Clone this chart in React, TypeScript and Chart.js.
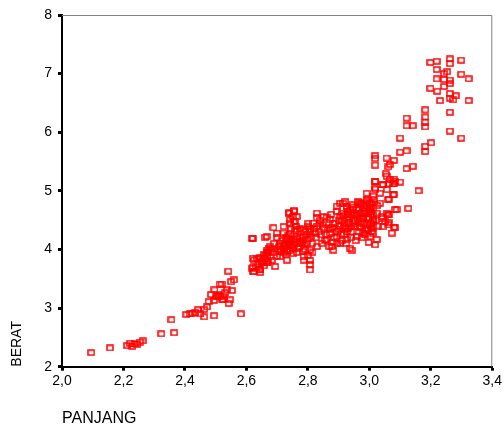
import { useEffect, useRef } from "react";
import { Chart, registerables } from "chart.js";

Chart.register(...registerables);

// PANJANG (x) and BERAT (y) values, grouped by region of the cloud
const lowPanjang = [2.095, 2.156, 2.212, 2.221, 2.229, 2.236, 2.245, 2.253, 2.262, 2.323, 2.365, 2.356,
  2.405, 2.416, 2.424, 2.433, 2.442, 2.45, 2.463, 2.463, 2.472, 2.495, 2.582,
  2.477, 2.485, 2.496, 2.501, 2.509, 2.513,
  2.494, 2.507, 2.513, 2.521, 2.526, 2.531, 2.537, 2.542, 2.547, 2.553, 2.56, 2.55, 2.519, 2.541, 2.524];
const lowBerat = [2.24, 2.32, 2.36, 2.4, 2.35, 2.39, 2.38, 2.42, 2.44, 2.56, 2.58, 2.8,
  2.89, 2.9, 2.91, 2.92, 2.97, 2.9, 2.98, 2.85, 3.02, 2.87, 2.9,
  3.11, 3.23, 3.31, 3.19, 3.23, 3.41,
  3.13, 3.19, 3.21, 3.14, 3.2, 3.26, 3.31, 3.08, 3.14, 3.3, 3.48, 3.45, 3.41, 3.63, 3.15];

const midPanjang = [2.621, 2.662, 2.621, 2.634, 2.645, 2.65, 2.656, 2.661, 2.667, 2.672, 2.667, 2.621, 2.623, 2.643, 2.645, 2.656, 2.669,
  2.915, 2.926, 2.894, 2.905, 2.937, 2.948, 2.97, 2.991, 3.002, 3.013, 3.035, 3.024, 3.04, 3.013, 2.991, 2.97, 2.948, 2.926,
  2.959, 2.981, 3.013, 3.024, 3.019, 2.883, 2.872, 2.862, 2.878, 2.883, 2.926, 2.937, 2.943, 2.905, 2.851, 2.851, 2.829,
  2.818, 2.802, 2.786, 2.764, 2.775, 2.797, 2.807, 2.807, 2.807, 2.807, 2.786, 2.786, 2.753, 2.743, 2.732, 2.721, 2.71,
  2.699, 2.688, 2.721, 2.743, 2.755, 2.737, 2.764, 2.743, 2.759, 2.829, 2.802, 2.667, 2.678, 2.688, 2.683, 2.656, 2.645,
  2.624, 2.618, 2.624, 2.645, 2.656, 2.667, 2.694, 2.71, 2.732, 2.721, 2.667, 2.618, 2.74, 2.755, 2.75, 2.754];
const midBerat = [4.19, 4.21, 3.85, 3.84, 3.87, 3.78, 3.84, 3.89, 3.94, 4.01, 3.77, 3.7, 3.62, 3.66, 3.61, 3.72, 3.8,
  4.79, 4.735, 4.65, 4.56, 4.68, 4.62, 4.76, 4.85, 4.79, 4.71, 4.79, 4.62, 4.56, 4.51, 4.45, 4.39, 4.45, 4.51,
  4.22, 4.28, 4.28, 4.17, 4.08, 4.45, 4.34, 4.17, 4.05, 3.99, 4.17, 4.02, 3.99, 4.11, 4.56, 4.37, 4.62,
  4.45, 4.39, 4.34, 4.22, 4.14, 4.11, 3.99, 3.82, 3.74, 3.65, 3.88, 3.82, 4.17, 4.05, 3.99, 3.94, 4.11,
  4.28, 4.37, 4.39, 4.51, 4.65, 4.62, 4.56, 4.45, 4.48, 4.54, 4.45, 3.99, 4.05, 3.94, 3.82, 3.91, 3.85,
  3.82, 3.68, 3.62, 3.65, 3.77, 3.77, 3.71, 3.88, 3.82, 4.11, 4.22, 4.19, 4.63, 4.67, 4.56, 4.47];

const densePanjang = [2.894, 2.905, 2.921, 2.991, 3.013, 3.035, 3.002, 2.981, 3.056, 3.051, 3.046, 3.013, 2.997, 2.964,
  2.959, 2.943, 2.932, 2.916, 2.9, 2.894, 2.872, 2.84, 2.824, 2.807, 2.786, 2.764, 2.743, 2.732, 2.721, 2.71, 2.699,
  2.678, 2.667,
  2.702, 2.706, 2.714, 2.721, 2.726, 2.729, 2.736, 2.741, 2.744, 2.751, 2.756, 2.759, 2.766, 2.771, 2.774, 2.781,
  2.784, 2.791, 2.796, 2.799, 2.806, 2.811, 2.814, 2.821, 2.826, 2.829, 2.836, 2.841, 2.844, 2.849, 2.856, 2.861,
  2.864, 2.871, 2.876, 2.879, 2.886, 2.889, 2.896, 2.901, 2.904, 2.911, 2.916, 2.919, 2.926, 2.931, 2.934, 2.941,
  2.946, 2.951, 2.954, 2.961, 2.966, 2.969, 2.976, 2.981, 2.984, 2.991, 2.996, 2.999, 3.006, 3.011, 3.014, 3.021,
  3.026, 3.029,
  3.005, 2.995, 2.985, 2.975, 2.965, 2.955, 2.94, 2.925, 2.91, 2.895, 2.88, 2.87, 2.86, 2.845, 2.83, 2.815, 2.8,
  2.79, 2.775, 2.76, 2.745, 2.73, 2.715, 2.7, 2.69, 2.68, 2.67, 2.66, 2.65, 2.64, 2.63];
const denseBerat = [4.74, 4.79, 4.82, 4.96, 4.91, 4.96, 4.68, 4.56, 4.62, 4.48, 4.39, 4.39, 4.34, 4.51,
  4.68, 4.76, 4.59, 4.39, 4.34, 4.22, 4.51, 4.45, 4.28, 4.34, 4.22, 4.34, 4.28, 4.17, 4.28, 3.99, 3.88,
  3.88, 3.88,
  4.0, 4.05, 3.97, 4.02, 4.08, 3.92, 4.1, 3.98, 4.15, 4.02, 4.08, 4.12, 3.95, 4.05, 4.2, 4.1,
  4.15, 4.0, 4.25, 4.18, 4.3, 4.22, 4.1, 4.35, 4.2, 4.4, 4.3, 4.5, 4.25, 4.42, 4.15, 4.55,
  4.35, 4.28, 4.6, 4.38, 4.2, 4.45, 4.3, 4.5, 4.4, 4.62, 4.25, 4.45, 4.7, 4.35, 4.55, 4.3,
  4.72, 4.5, 4.4, 4.6, 4.8, 4.55, 4.45, 4.7, 4.62, 4.75, 4.55, 4.8, 4.65, 4.6, 4.85, 4.5,
  4.75, 4.4,
  4.45, 4.35, 4.25, 4.2, 4.3, 4.15, 4.2, 4.1, 4.15, 4.1, 4.12, 4.05, 4.25, 4.1, 4.05, 3.95, 3.9,
  4.3, 4.35, 4.4, 4.35, 4.2, 4.15, 4.2, 4.1, 4.0, 3.95, 3.85, 3.8, 3.75, 3.7];

// extra points filling the most crowded part of the cloud
const corePanjang = [2.998, 3.003, 3.008, 3.002, 2.997, 3.006, 3.001, 3.009, 2.994, 3.004, 3.012, 2.999,
  2.962, 2.967, 2.972, 2.978, 2.983, 2.988, 2.957, 2.952, 2.974, 2.986, 2.969, 2.981,
  2.912, 2.918, 2.923, 2.929, 2.934, 2.939, 2.944, 2.909, 2.927,
  2.728, 2.733, 2.738, 2.747, 2.752, 2.762, 2.768, 2.777, 2.783, 2.789, 2.735, 2.757];
const coreBerat = [4.12, 4.22, 4.31, 4.42, 4.52, 4.61, 4.7, 4.78, 4.83, 4.36, 4.47, 4.64,
  4.82, 4.7, 4.62, 4.52, 4.42, 4.33, 4.58, 4.48, 4.78, 4.66, 4.38, 4.73,
  4.49, 4.58, 4.36, 4.64, 4.46, 4.4, 4.6, 4.27, 4.3,
  4.06, 3.96, 4.13, 4.07, 3.93, 4.18, 4.02, 4.11, 3.97, 4.08, 4.23, 4.32];

const highPanjang = [3.019, 3.044, 3.078, 3.019, 3.057, 3.084, 3.078, 3.062, 3.089, 3.062, 3.062, 3.084, 3.073,
  3.199, 3.219, 3.262, 3.262, 3.299, 3.219, 3.243, 3.253, 3.299, 3.323, 3.219, 3.243, 3.262, 3.262, 3.243, 3.199,
  3.221, 3.262, 3.281, 3.262, 3.273, 3.23, 3.323, 3.182, 3.182, 3.182, 3.182, 3.121, 3.121, 3.141, 3.262, 3.262,
  3.299, 3.1, 3.182, 3.182, 3.201, 3.1, 3.121, 3.019, 3.019, 3.019, 3.056, 3.08, 3.067, 3.062, 3.054, 3.056, 3.067,
  3.08, 3.1, 3.019, 3.019, 3.043, 3.063, 3.08, 3.121, 3.141, 3.16, 3.08, 3.063, 3.084, 3.127, 3.063, 3.043, 3.063, 3.08];
const highBerat = [5.16, 5.1, 5.12, 5.03, 5.02, 5.16, 4.93, 4.85, 4.68, 4.59, 4.42, 4.37, 4.28,
  7.19, 7.21, 7.25, 7.17, 7.23, 7.07, 7.0, 7.03, 6.99, 6.91, 6.91, 6.9, 6.89, 6.83, 6.78, 6.75,
  6.7, 6.66, 6.62, 6.58, 6.55, 6.54, 6.54, 6.38, 6.26, 6.17, 6.09, 6.24, 6.11, 6.11, 6.34, 6.02,
  5.9, 5.9, 5.76, 5.67, 5.82, 5.66, 5.68, 5.6, 5.55, 5.44, 5.56, 5.52, 5.45, 5.41, 5.29, 5.25, 5.2,
  5.2, 5.15, 5.16, 5.05, 5.11, 5.12, 5.12, 5.38, 5.42, 5.0, 4.94, 4.86, 4.68, 4.7, 4.59, 4.53, 4.46, 4.38];

const xTicks = [2.0, 2.2, 2.4, 2.6, 2.8, 3.0, 3.2, 3.4];
const yTicks = [2, 3, 4, 5, 6, 7, 8];

function pairs(xs: number[], ys: number[]) {
  const n = Math.min(xs.length, ys.length);
  const out: { x: number; y: number }[] = [];
  for (let i = 0; i < n; i++) out.push({ x: xs[i], y: ys[i] });
  return out;
}

const FONT = '"Liberation Sans", Arial, sans-serif';

export default function App() {
  const ref = useRef<HTMLCanvasElement>(null);

  useEffect(() => {
    document.body.style.margin = "0";
    const mark = document.createElement("canvas");
    mark.width = 8;
    mark.height = 7;
    const mctx = mark.getContext("2d")!;
    mctx.strokeStyle = "#ff0000";
    mctx.lineWidth = 1.5;
    mctx.strokeRect(1, 1, 6, 5);

    const points = [
      ...pairs(lowPanjang, lowBerat),
      ...pairs(midPanjang, midBerat),
      ...pairs(densePanjang, denseBerat),
      ...pairs(corePanjang, coreBerat),
      ...pairs(highPanjang, highBerat),
    ];

    const frame = {
      id: "frame",
      beforeDatasetsDraw(chart: any) {
        const { ctx, chartArea } = chart;
        ctx.save();
        ctx.strokeStyle = "#808080";
        ctx.lineWidth = 1;
        ctx.beginPath();
        ctx.moveTo(chartArea.left, chartArea.top + 0.5);
        ctx.lineTo(chartArea.right - 0.5, chartArea.top + 0.5);
        ctx.lineTo(chartArea.right - 0.5, chartArea.bottom);
        ctx.stroke();
        ctx.restore();
      },
    };

    const chart = new Chart(ref.current!, {
      type: "scatter",
      data: {
        datasets: [
          {
            data: points,
            pointStyle: mark as any,
            pointRadius: 3,
            showLine: false,
          },
        ],
      },
      options: {
        animation: false,
        responsive: false,
        maintainAspectRatio: false,
        events: [],
        plugins: { legend: { display: false }, tooltip: { enabled: false } },
        layout: { padding: { top: 15, right: 11, left: 0, bottom: 0 } },
        scales: {
          x: {
            type: "linear",
            min: 2,
            max: 3.4,
            afterBuildTicks: (s: any) => {
              s.ticks = xTicks.map((v) => ({ value: v }));
            },
            afterFit: (s: any) => {
              s.height = 61.3;
            },
            ticks: {
              callback: (v: any) => Number(v).toFixed(1).replace(".", ","),
              font: { family: FONT, size: 14 },
              color: "#000",
              padding: 2,
              autoSkip: false,
              maxRotation: 0,
            },
            grid: {
              display: true,
              drawOnChartArea: false,
              drawTicks: true,
              tickLength: 4,
              tickWidth: 3,
              tickColor: "#000",
            },
            border: { display: true, color: "#000", width: 2 },
            title: {
              display: true,
              text: "PANJANG",
              align: "start",
              color: "#000",
              font: { family: FONT, size: 16 },
              padding: { top: 0, bottom: 0 },
            },
          },
          y: {
            type: "linear",
            min: 2,
            max: 8,
            afterBuildTicks: (s: any) => {
              s.ticks = yTicks.map((v) => ({ value: v }));
            },
            afterFit: (s: any) => {
              s.width = 62;
            },
            ticks: {
              callback: (v: any) => String(v),
              font: { family: FONT, size: 14 },
              color: "#000",
              padding: 6,
            },
            grid: {
              display: true,
              drawOnChartArea: false,
              drawTicks: true,
              tickLength: 4,
              tickWidth: 3,
              tickColor: "#000",
            },
            border: { display: true, color: "#000", width: 2 },
            title: {
              display: true,
              text: "BERAT",
              align: "start",
              color: "#000",
              font: { family: FONT, size: 14 },
              padding: { top: 9, bottom: 0 },
            },
          },
        },
      },
      plugins: [frame],
    } as any);

    return () => chart.destroy();
  }, []);

  return <canvas ref={ref} width={504} height={428} style={{ display: "block" }} />;
}
